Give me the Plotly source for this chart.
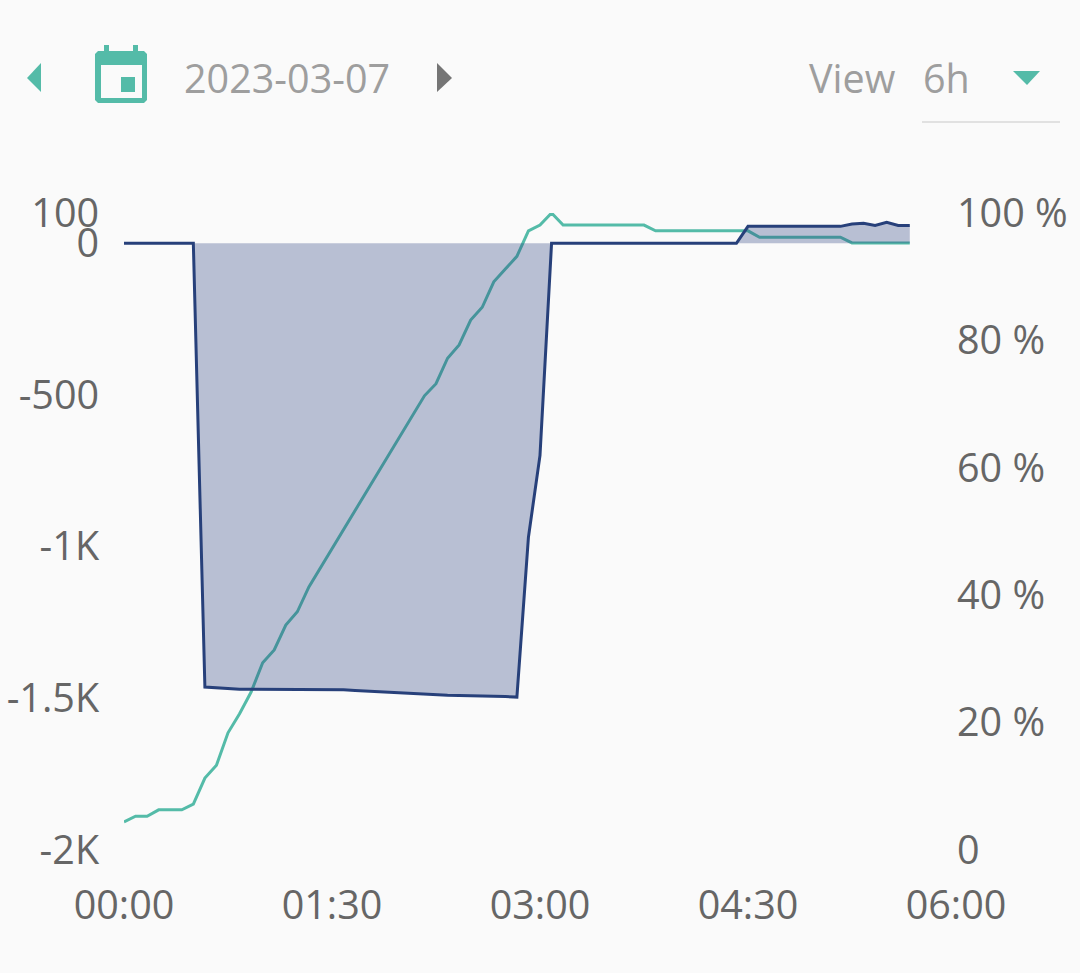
import plotly.graph_objects as go

W, H = 1080, 973
L, R, T, B = 124, 956, 213, 850
TEAL = "#54bba8"
NAVY = "#27407a"
BG = "#fafafa"
TICK = "#666666"
HEAD = "#9e9e9e"

date_label = "2023-03-07"
view_label = "View"
view_value = "6h"

times = ["2023-03-07 %02d:%02d" % (m // 60, m % 60) for m in range(0, 345, 5)]

soc_percent = [
    4.4, 5.3, 5.3, 6.3, 6.3, 6.3, 7.2, 11.3, 13.3, 18.4, 21.4, 24.8,
    29.4, 31.4, 35.3, 37.4, 41.3, 44.3, 47.3, 50.2, 53.2, 56.2, 59.2, 62.3,
    65.3, 68.3, 71.3, 73.2, 77.2, 79.3, 83.2, 85.2, 89.2, 91.2, 93.2, 97.2,
    98.1, 100.0, 98.1, 98.1, 98.1, 98.1, 98.1, 98.1, 98.1, 98.1, 97.2, 97.2,
    97.2, 97.2, 97.2, 97.2, 97.2, 97.2, 97.2, 96.2, 96.2, 96.2, 96.2, 96.2,
    96.2, 96.2, 96.2, 95.3, 95.3, 95.3, 95.3, 95.3, 95.3,
]
power = [
    0, 0, 0, 0, 0, 0, 0, -1463, -1466, -1468, -1470, -1470,
    -1470, -1470, -1470, -1470, -1470, -1470, -1470, -1472, -1474, -1476, -1478, -1482,
    -1484, -1486, -1488, -1489, -1490, -1491, -1491, -1492, -1493, -1494, -1496, -969,
    -699, 0, 0, 0, 0, 0, 0, 0, 0, 0, 0, 0,
    0, 0, 0, 0, 0, 0, 56, 56, 56, 56, 55, 55,
    56, 56, 56, 64, 66, 59, 69, 59, 59,
]

power_ticks = [100, 0, -500, -1000, -1500, -2000]
power_labels = ["100", "0", "-500", "-1K", "-1.5K", "-2K"]
soc_ticks = [0, 20, 40, 60, 80, 100]
soc_labels = ["0", "20 %", "40 %", "60 %", "80 %", "100 %"]


def px(x):
    return (x - L) / (R - L)


def py(y):
    return (B - y) / (B - T)


def path(points):
    return "M " + " L ".join("%.5f,%.5f" % (px(a), py(b)) for a, b in points) + " Z"


def poly(points, color):
    return dict(type="path", xref="paper", yref="paper", path=path(points),
                fillcolor=color, line=dict(width=0), layer="above")


def rect(x0, y0, x1, y1, color):
    return poly([(x0, y0), (x1, y0), (x1, y1), (x0, y1)], color)


def label(x, text, color=HEAD, size=39.5):
    return dict(xref="paper", yref="paper", x=px(x), y=py(78), text=text, showarrow=False,
                xanchor="left", yanchor="middle",
                font=dict(family="Open Sans", size=size, color=color))


fig = go.Figure()
fig.add_trace(go.Scatter(x=times, y=soc_percent, mode="lines", yaxis="y",
                         line=dict(color=TEAL, width=3), hoverinfo="skip"))
fig.add_trace(go.Scatter(x=times, y=power, mode="lines", yaxis="y2", fill="tozeroy",
                         fillcolor="rgba(39,60,125,0.31)",
                         line=dict(color=NAVY, width=3), hoverinfo="skip"))

axis_font = dict(family="Open Sans", size=39.5, color=TICK)
shapes = [
    poly([(41, 63), (41, 92), (27, 78)], TEAL),
    poly([(437, 63), (437, 92), (452, 78)], "#757575"),
    poly([(1013, 71), (1040, 71), (1027, 85)], TEAL),
    rect(104, 45, 109, 52, TEAL),
    rect(133, 45, 138, 52, TEAL),
    poly([(98, 51), (144, 51), (147, 54), (147, 100), (144, 103), (98, 103), (95, 100), (95, 54)], TEAL),
    rect(101, 65, 142, 98, BG),
    rect(121, 77, 135, 92, TEAL),
    dict(type="line", xref="paper", yref="paper", x0=px(922), x1=px(1060), y0=py(122), y1=py(122),
         line=dict(color="#c8c8c8", width=1.2)),
]

fig.update_layout(
    width=W, height=H, autosize=False,
    margin=dict(l=L, r=W - R, t=T, b=H - B, pad=0),
    paper_bgcolor=BG, plot_bgcolor=BG, showlegend=False,
    xaxis=dict(type="date", range=["2023-03-07 00:00", "2023-03-07 06:00"], dtick=5400000,
               tick0="2023-03-07 00:00", tickformat="%H:%M", showgrid=False, zeroline=False,
               showline=False, ticks="outside", ticklen=21, tickcolor="rgba(0,0,0,0)",
               tickfont=axis_font, automargin=False),
    yaxis=dict(side="right", range=[0, 100], tickvals=soc_ticks, ticktext=soc_labels,
               showgrid=False, zeroline=False, showline=False, tickfont=axis_font,
               automargin=False),
    yaxis2=dict(side="left", overlaying="y", range=[-2000, 100], tickvals=power_ticks,
                ticktext=power_labels, showgrid=False, zeroline=False, showline=False,
                ticks="outside", ticklen=16, tickcolor="rgba(0,0,0,0)", tickfont=axis_font,
                automargin=False),
    shapes=shapes,
    annotations=[label(182, date_label), label(807, view_label), label(921, view_value)],
)

fig.write_html("out.html", config=dict(displayModeBar=False),
               post_script="document.body.style.margin='0';document.body.style.background='%s';" % BG)
